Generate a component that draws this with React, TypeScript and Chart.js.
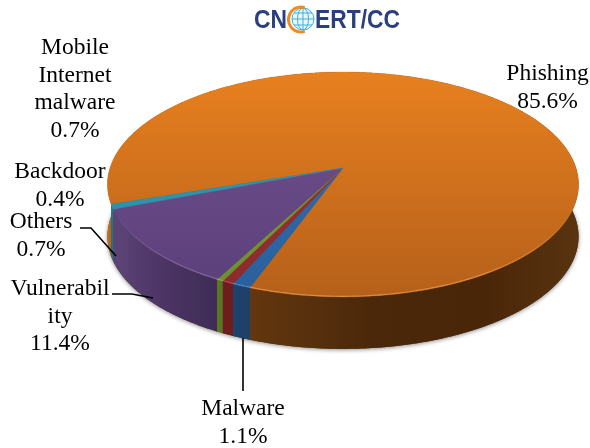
import React, { useEffect, useRef } from "react";
import { Chart, registerables } from "chart.js";

Chart.register(...registerables);

// Slices in clockwise drawing order, as they appear around the pie
const categories = ["Phishing", "Malware", "Mobile Internet malware", "Backdoor", "Vulnerability", "Others"];
const shares = [85.6, 1.1, 0.7, 0.4, 11.4, 0.7];
const faceTop = ["#E8801F", "#3372B5", "#A33236", "#7FA638", "#74528F", "#2F9CB8"];
const faceBottom = ["#B5601A", "#2A5F9C", "#8C2A2C", "#6A8E2E", "#5A3F7B", "#2A8AA5"];
const rims = ["#EE9A4E", "#5C92CC", "#C2595C", "#9DBE5C", "#9078AE", "#5DB8CE"];
const wallStops = [
  ["#D0741C", "#7C4613", "#5E340E", "#4C280A", "#4A2608", "#5A3410"],
  ["#1F4470", "#1F4470", "#1D3D66", "#1D3D66", "#1D3D66", "#1D3D66"],
  ["#701D1F", "#701D1F", "#6C1B1D", "#6C1B1D", "#6C1B1D", "#6C1B1D"],
  ["#5A7626", "#5A7626", "#557024", "#557024", "#557024", "#557024"],
  ["#5C4375", "#5C4375", "#523A6C", "#4A3363", "#43305A", "#3F2A55"],
  ["#23758C", "#23758C", "#206C82", "#206C82", "#206C82", "#206C82"],
];
const wallOffsets = [
  [0, 0.03, 0.36, 0.55, 0.8, 1],
  [0, 0.2, 0.4, 0.6, 0.8, 1],
  [0, 0.2, 0.4, 0.6, 0.8, 1],
  [0, 0.2, 0.4, 0.6, 0.8, 1],
  [0, 0.1, 0.3, 0.55, 0.8, 1],
  [0, 0.2, 0.4, 0.6, 0.8, 1],
];
const labelLines = [
  { lines: ["Phishing", "85.6%"], x: 547.5, y: 80 },
  { lines: ["Mobile", "Internet", "malware", "0.7%"], x: 75, y: 54 },
  { lines: ["Backdoor", "0.4%"], x: 60, y: 178 },
  { lines: ["Others", "0.7%"], x: 41, y: 228 },
  { lines: ["Vulnerabil", "ity", "11.4%"], x: 60, y: 295 },
  { lines: ["Malware", "1.1%"], x: 243, y: 415 },
];
const leaders = [
  [[80, 228], [91, 228], [116, 256]],
  [[112, 294], [132, 294], [153, 298]],
  [[243, 338], [243, 391]],
];

const APEX_X = 343;
const APEX_Y = 168;
const RX = 233;
const RY = 110;
const TILT = -0.1467;
const DEPTH = 52;

function project(a: number) {
  const s = Math.sin(a);
  const w = 1 + TILT * s;
  return { x: APEX_X + (RX * Math.cos(a)) / w, y: APEX_Y + (RY * s) / w };
}

function samples(a0: number, a1: number) {
  const n = Math.max(2, Math.ceil(Math.abs(a1 - a0) / 0.01));
  const out: { x: number; y: number }[] = [];
  for (let i = 0; i <= n; i++) out.push(project(a0 + ((a1 - a0) * i) / n));
  return out;
}

const pie3d = {
  id: "pie3d",
  beforeDatasetsDraw(chart: any) {
    const ctx: CanvasRenderingContext2D = chart.ctx;
    const arcs = chart.getDatasetMeta(0).data;

    // soft shadow below the whole body
    ctx.save();
    ctx.shadowColor = "rgba(0,0,0,0.45)";
    ctx.shadowBlur = 4;
    ctx.shadowOffsetY = 1;
    ctx.fillStyle = "#5A3410";
    ctx.beginPath();
    samples(0, Math.PI * 2).forEach((p, i) =>
      i ? ctx.lineTo(p.x, p.y + DEPTH) : ctx.moveTo(p.x, p.y + DEPTH)
    );
    ctx.closePath();
    ctx.fill();
    ctx.restore();

    // side walls
    arcs.forEach((arc: any, i: number) => {
      const pts = samples(arc.startAngle, arc.endAngle);
      const g =
        i === 4 ? ctx.createLinearGradient(110, 0, 220, 0) : ctx.createLinearGradient(106, 0, 580, 0);
      wallStops[i].forEach((c, k) => g.addColorStop(wallOffsets[i][k], c));
      ctx.fillStyle = g;
      ctx.beginPath();
      pts.forEach((p, k) => (k ? ctx.lineTo(p.x, p.y) : ctx.moveTo(p.x, p.y)));
      pts.slice().reverse().forEach((p) => ctx.lineTo(p.x, p.y + DEPTH));
      ctx.closePath();
      ctx.fill();
    });

    // top faces
    arcs.forEach((arc: any, i: number) => {
      const g = ctx.createLinearGradient(0, 72, 0, 297);
      g.addColorStop(0, faceTop[i]);
      g.addColorStop(1, faceBottom[i]);
      ctx.fillStyle = g;
      ctx.strokeStyle = g;
      ctx.lineWidth = 0.4;
      ctx.beginPath();
      ctx.moveTo(APEX_X, APEX_Y);
      samples(arc.startAngle, arc.endAngle).forEach((p) => ctx.lineTo(p.x, p.y));
      ctx.closePath();
      ctx.fill();
      ctx.stroke();
    });

    // rim highlight on the front edge, fading out toward the sides
    arcs.forEach((arc: any, i: number) => {
      const a0 = arc.startAngle;
      const a1 = arc.endAngle;
      const n = Math.max(2, Math.ceil(Math.abs(a1 - a0) / 0.02));
      ctx.strokeStyle = rims[i];
      ctx.lineWidth = 1.2;
      for (let k = 0; k < n; k++) {
        const a = a0 + ((a1 - a0) * k) / n;
        const b = a0 + ((a1 - a0) * (k + 1)) / n;
        const s = Math.sin((a + b) / 2);
        if (s <= 0.35) continue;
        const p = project(a);
        const q = project(b);
        ctx.globalAlpha = Math.min(0.75, (s - 0.35) * 1.4);
        ctx.beginPath();
        ctx.moveTo(p.x, p.y - 0.6);
        ctx.lineTo(q.x, q.y - 0.6);
        ctx.stroke();
      }
      ctx.globalAlpha = 1;
    });

    // leader lines
    ctx.strokeStyle = "#000";
    ctx.lineWidth = 1.6;
    leaders.forEach((line) => {
      ctx.beginPath();
      line.forEach(([x, y], k) => (k ? ctx.lineTo(x, y) : ctx.moveTo(x, y)));
      ctx.stroke();
    });

    // labels
    ctx.fillStyle = "#000";
    ctx.font = '23.5px "Liberation Serif"';
    ctx.textAlign = "center";
    ctx.textBaseline = "alphabetic";
    labelLines.forEach((l) => {
      l.lines.forEach((t, k) => ctx.fillText(t, l.x, l.y + k * 27.5));
    });

    // CNCERT/CC mark
    ctx.fillStyle = "#2B3F7F";
    ctx.font = 'bold 25px "Liberation Sans"';
    ctx.textAlign = "left";
    ctx.fillText("CN", 254, 28, 33);
    ctx.fillText("ERT/CC", 315, 28, 85);
    ctx.fillStyle = "#EAF6FB";
    ctx.beginPath();
    ctx.arc(303, 19, 11, 0, Math.PI * 2);
    ctx.fill();
    ctx.strokeStyle = "#3FB0DC";
    ctx.lineWidth = 1;
    ctx.beginPath();
    ctx.arc(303, 19, 11, 0, Math.PI * 2);
    ctx.moveTo(292, 19);
    ctx.lineTo(314, 19);
    ctx.moveTo(294, 13);
    ctx.lineTo(312, 13);
    ctx.moveTo(294, 25);
    ctx.lineTo(312, 25);
    ctx.moveTo(303, 8);
    ctx.lineTo(303, 30);
    ctx.stroke();
    ctx.beginPath();
    ctx.ellipse(303, 19, 5.5, 11, 0, 0, Math.PI * 2);
    ctx.stroke();
    ctx.strokeStyle = "#F08A24";
    ctx.lineWidth = 3;
    ctx.beginPath();
    ctx.arc(301, 19.5, 12.5, Math.PI * 0.4, Math.PI * 1.6);
    ctx.stroke();

    return false;
  },
};

export default function App() {
  const ref = useRef<HTMLCanvasElement>(null);
  useEffect(() => {
    const chart = new Chart(ref.current as HTMLCanvasElement, {
      type: "pie",
      data: {
        labels: categories,
        datasets: [{ data: shares, backgroundColor: faceTop, borderWidth: 0 }],
      },
      options: {
        animation: false,
        responsive: false,
        events: [],
        rotation: -108.3,
        plugins: { legend: { display: false }, tooltip: { enabled: false } },
      },
      plugins: [pie3d],
    } as any);
    return () => chart.destroy();
  }, []);
  return (
    <div style={{ position: "fixed", left: 0, top: 0, width: 590, height: 448, background: "#fff" }}>
      <canvas ref={ref} width={590} height={448} style={{ display: "block" }} />
    </div>
  );
}
